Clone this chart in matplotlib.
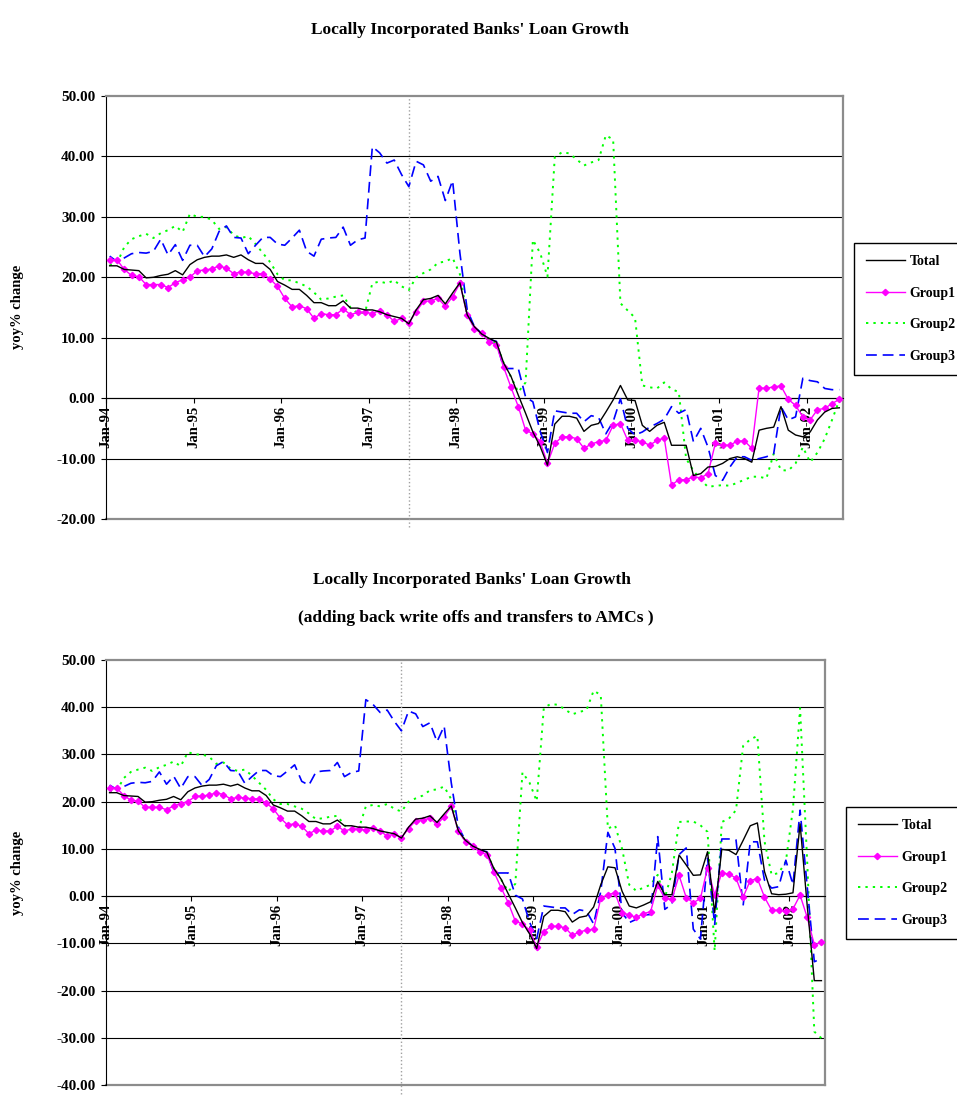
import matplotlib.pyplot as plt
import numpy as np
from matplotlib.ticker import FormatStrFormatter

plt.rcParams['font.family'] = ['Liberation Serif', 'DejaVu Serif']
plt.rcParams['font.weight'] = 'bold'

# monthly, Jan-94 .. May-02
tick_labels = ['Jan-94', 'Jan-95', 'Jan-96', 'Jan-97', 'Jan-98',
               'Jan-99', 'Jan-00', 'Jan-01', 'Jan-02']

top_total = [21.9, 21.9, 21.3, 21.2, 21.1, 19.9, 20.0, 20.3, 20.5, 21.1, 20.4, 22.1,
             22.9, 23.3, 23.5, 23.5, 23.7, 23.3, 23.7, 22.9, 22.3, 22.3, 21.3, 19.3,
             18.7, 18.0, 18.0, 17.0, 15.8, 15.8, 15.3, 15.3, 16.1, 14.9, 14.9, 14.6,
             14.6, 14.3, 13.8, 13.5, 13.2, 12.3, 14.6, 16.3, 16.5, 17.0, 15.6, 17.4,
             19.1, 13.8, 11.8, 10.6, 9.9, 9.3, 5.8, 3.6, 0.5, -2.5, -5.6, -8.0,
             -11.1, -4.3, -3.0, -3.0, -3.3, -5.5, -4.5, -4.2, -2.3, -0.3, 2.1, -0.3,
             -0.4, -4.5, -5.5, -4.5, -4.0, -7.8, -7.8, -7.8, -12.8, -12.5, -11.4, -11.3,
             -10.8, -10.0, -9.7, -10.0, -10.6, -5.3, -5.0, -4.8, -1.4, -5.3, -6.1, -6.4,
             -5.6, -3.6, -2.3, -1.7, -1.6]

top_g1 = [22.9, 22.9, 21.3, 20.3, 20.1, 18.8, 18.8, 18.8, 18.3, 19.1, 19.6, 20.0,
          21.1, 21.2, 21.4, 21.9, 21.5, 20.6, 20.9, 20.8, 20.6, 20.6, 19.7, 18.5,
          16.5, 15.1, 15.3, 14.8, 13.2, 14.0, 13.8, 13.8, 14.8, 13.8, 14.2, 14.2,
          14.0, 14.5, 13.8, 12.7, 13.2, 12.4, 14.3, 16.0, 16.1, 16.5, 15.2, 16.8,
          19.0, 13.7, 11.5, 10.7, 9.3, 8.8, 5.1, 1.8, -1.4, -5.3, -5.9, -7.2,
          -10.8, -7.5, -6.4, -6.4, -6.7, -8.3, -7.6, -7.2, -7.0, -4.5, -4.2, -7.0,
          -7.0, -7.2, -7.8, -7.0, -6.6, -14.4, -13.5, -13.5, -13.0, -13.2, -12.5, -7.5,
          -7.8, -7.8, -7.1, -7.1, -8.3, 1.7, 1.6, 1.9, 2.0, -0.2, -1.2, -3.1,
          -3.6, -1.9, -1.7, -0.9, -0.2]

top_g2 = [22.0, 22.3, 25.0, 26.3, 26.8, 27.2, 26.5, 27.3, 27.8, 28.5, 27.5, 30.5,
          30.0, 30.0, 29.5, 28.0, 28.3, 27.0, 26.5, 26.8, 25.5, 24.0, 22.5, 20.5,
          19.5, 19.5, 19.0, 18.5, 17.5, 16.3, 16.5, 16.8, 17.0, 15.0, 14.0, 14.2,
          19.0, 19.3, 19.0, 19.5, 18.5, 17.9, 20.0, 20.7, 21.3, 22.4, 22.6, 23.2,
          20.5, 13.5, 11.8, 10.5, 9.5, 9.0, 5.8, 3.5, 1.0, 2.6, 26.2, 24.0,
          20.1, 39.9, 40.7, 40.5, 39.5, 38.5, 39.0, 39.4, 43.5, 42.8, 15.7, 14.5,
          13.3, 2.1, 1.8, 1.6, 2.6, 1.5, 1.0, -10.0, -12.0, -13.5, -14.7, -14.5,
          -14.4, -14.5, -14.0, -13.5, -13.0, -13.0, -13.3, -9.2, -11.9, -12.0, -10.8, -8.1,
          -10.6, -9.0, -6.7, -3.6, -0.3]

top_g3 = [23.5, 22.6, 23.2, 23.9, 24.1, 24.0, 24.3, 26.3, 23.7, 25.4, 22.8, 25.3,
          25.3, 23.4, 24.7, 27.6, 28.5, 26.6, 26.5, 23.9, 25.3, 26.6, 26.6, 25.5,
          25.3, 26.5, 27.8, 24.3, 23.5, 26.3, 26.5, 26.6, 28.3, 25.3, 26.2, 26.5,
          41.6, 40.6, 38.9, 39.4, 37.0, 35.0, 39.2, 38.6, 35.9, 36.7, 32.7, 36.0,
          24.0, 14.6, 11.8, 10.7, 9.7, 9.4, 4.9, 4.9, 4.9, 0.2, -0.6, -5.5,
          -9.0, -2.1, -2.3, -2.5, -2.5, -3.9, -2.9, -3.2, -5.9, -3.9, -0.1, -5.0,
          -6.1, -5.6, -4.8, -4.2, -3.5, -1.4, -2.5, -1.9, -7.2, -5.0, -8.1, -12.8,
          -13.6, -11.4, -9.7, -9.7, -10.3, -10.0, -9.7, -9.2, -1.4, -3.6, -3.1, 3.3,
          2.9, 2.7, 1.6, 1.4, 1.4]

# second chart: same series up to Sep-99, then write offs / AMC transfers added back
bot_total = top_total[:69] + [
    2.4, 6.2, 6.0, 1.0, -2.1, -2.5, -1.9, -1.2, 3.1, 0.3, 0.3, 8.7,
    6.6, 4.4, 4.5, 9.4, -3.5, 9.9, 9.7, 8.8, 11.8, 14.9, 15.5, 5.2,
    0.5, 0.3, 0.4, 0.7, 15.3, -2.0, -17.9, -17.9]
bot_g1 = top_g1[:69] + [
    -0.5, 0.3, 0.7, -3.5, -4.0, -4.5, -3.7, -3.3, 2.3, -0.5, -0.7, 4.4,
    -0.3, -1.4, -0.5, 6.0, 0.3, 4.9, 4.7, 3.8, -0.2, 3.3, 3.7, -0.2,
    -3.0, -3.0, -3.2, -2.7, 0.2, -4.5, -10.3, -9.8]
bot_g2 = top_g2[:69] + [
    42.6, 14.3, 15.0, 10.0, 2.4, 1.1, 1.8, 2.4, 4.5, -0.4, 5.0, 15.7,
    15.8, 15.8, 15.0, 13.6, -11.6, 15.7, 16.4, 18.2, 31.8, 33.2, 33.9, 11.6,
    4.5, 4.9, 7.3, 18.5, 39.8, 7.3, -28.7, -30.1]
bot_g3 = top_g3[:69] + [
    1.0, 13.5, 10.1, -3.5, -5.6, -4.9, -4.0, -3.9, 12.6, -2.8, -1.7, 8.8,
    10.2, -7.0, -9.1, 8.0, -6.0, 12.1, 12.1, 11.9, -2.0, 11.5, 11.5, 3.4,
    1.7, 2.0, 7.6, 2.4, 18.2, 2.0, -13.9, -13.2]

n = len(top_total)
months = np.arange(n) + 0.5
border = '#8c8c8c'


def draw(ax, total, g1, g2, g3, ymin):
    ax.set_xlim(0, n)
    ax.set_ylim(ymin, 50)
    for v in range(ymin + 10, 50, 10):
        ax.axhline(v, color='black', lw=0.8, zorder=1)
    ax.axhline(ymin, color=border, lw=1.6, clip_on=False, zorder=1)
    ax.axvline(41.5, ymin=-0.02, color='#a0a0a0', ls=':', lw=1, clip_on=False)

    l0, = ax.plot(months, total, color='black', lw=1, label='Total', zorder=5)
    l1, = ax.plot(months, g1, color='#ff00ff', lw=1, marker='D', ms=3.2,
                  label='Group1', zorder=4)
    l2, = ax.plot(months, g2, color='#00ff00', lw=1.4, ls=(0, (1.2, 2.6)),
                  label='Group2', zorder=3)
    l3, = ax.plot(months, g3, color='#0000ff', lw=1.2, ls=(0, (6.5, 3.5)),
                  label='Group3', zorder=3)

    for s in ['top', 'right']:
        ax.spines[s].set_color(border)
        ax.spines[s].set_linewidth(1.6)
    ax.spines['left'].set_color('black')
    ax.spines['bottom'].set_position(('data', 0))
    ax.spines['bottom'].set_color('black')

    ax.set_xticks(range(0, n, 12))
    ax.set_xticklabels(tick_labels, rotation=90, va='top', ha='center')
    ax.set_yticks(range(ymin, 51, 10))
    ax.yaxis.set_major_formatter(FormatStrFormatter('%.2f'))
    ax.tick_params(axis='x', direction='out', length=3.6, pad=2, labelsize=10.5)
    ax.tick_params(axis='y', direction='out', length=3.6, pad=4, labelsize=11)
    return [l0, l1, l2, l3]


fig = plt.figure(figsize=(9.57, 10.95), dpi=100)
W, H = 957, 1095

ax1 = fig.add_axes([106 / W, 1 - 519 / H, (843 - 106) / W, (519 - 96) / H])
h1 = draw(ax1, top_total, top_g1, top_g2, top_g3, -20)

ax2 = fig.add_axes([106 / W, 1 - 1085 / H, (825 - 106) / W, (1085 - 660) / H])
h2 = draw(ax2, bot_total, bot_g1, bot_g2, bot_g3, -40)

fig.text(470 / W, 1 - 30 / H, "Locally Incorporated Banks' Loan Growth",
         ha='center', va='center', fontsize=12.5)
fig.text(472 / W, 1 - 580 / H, "Locally Incorporated Banks' Loan Growth",
         ha='center', va='center', fontsize=12.5)
fig.text(476 / W, 1 - 618 / H, "(adding back write offs and transfers to AMCs )",
         ha='center', va='center', fontsize=12.5)
fig.text(18 / W, 1 - 307 / H, 'yoy% change', rotation=90,
         ha='center', va='center', fontsize=10.5)
fig.text(18 / W, 1 - 873 / H, 'yoy% change', rotation=90,
         ha='center', va='center', fontsize=10.5)

for handles, (lx, ly) in [(h1, (854, 243)), (h2, (846, 807))]:
    leg = fig.legend(handles, [h.get_label() for h in handles], loc='upper left',
                     bbox_to_anchor=(lx / W, 1 - ly / H), fancybox=False,
                     edgecolor='black', framealpha=1, fontsize=10,
                     handlelength=2.8, handletextpad=0.35, labelspacing=1.35,
                     borderpad=0.85, borderaxespad=0)
    leg.get_frame().set_linewidth(1)

fig.savefig('out.png', dpi=100)
